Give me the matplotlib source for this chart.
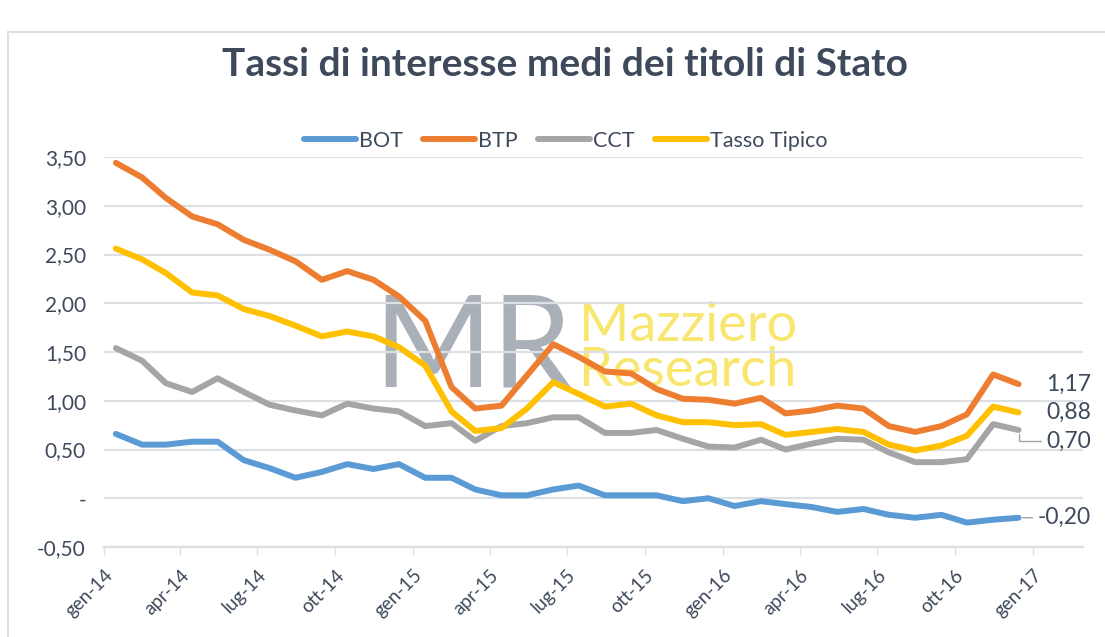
import pandas as pd
import matplotlib
matplotlib.use("Agg")
import matplotlib.pyplot as plt
from matplotlib.patches import Rectangle

# ========== DATA ==========
months = pd.date_range("2014-01-01", "2016-12-01", freq="MS") + pd.Timedelta(days=14)

bot = [0.66, 0.55, 0.55, 0.58, 0.58, 0.39, 0.31, 0.21, 0.27, 0.35, 0.30, 0.35,
       0.21, 0.21, 0.09, 0.03, 0.03, 0.09, 0.13, 0.03, 0.03, 0.03, -0.03, 0.00,
       -0.08, -0.03, -0.06, -0.09, -0.14, -0.11, -0.17, -0.20, -0.17, -0.25, -0.22, -0.20]
btp = [3.44, 3.29, 3.08, 2.89, 2.81, 2.65, 2.55, 2.43, 2.24, 2.33, 2.24, 2.07,
       1.82, 1.14, 0.92, 0.95, 1.26, 1.58, 1.45, 1.30, 1.28, 1.12, 1.02, 1.01,
       0.97, 1.03, 0.87, 0.90, 0.95, 0.92, 0.74, 0.68, 0.74, 0.86, 1.27, 1.17]
cct = [1.54, 1.41, 1.18, 1.09, 1.23, 1.09, 0.96, 0.90, 0.85, 0.97, 0.92, 0.89,
       0.74, 0.77, 0.59, 0.74, 0.77, 0.83, 0.83, 0.67, 0.67, 0.70, 0.61, 0.53,
       0.52, 0.60, 0.50, 0.56, 0.61, 0.60, 0.47, 0.37, 0.37, 0.40, 0.76, 0.70]
tipico = [2.56, 2.45, 2.31, 2.11, 2.08, 1.94, 1.87, 1.77, 1.66, 1.71, 1.66, 1.55,
          1.36, 0.89, 0.69, 0.72, 0.92, 1.19, 1.07, 0.94, 0.97, 0.85, 0.78, 0.78,
          0.75, 0.76, 0.65, 0.68, 0.71, 0.68, 0.55, 0.49, 0.54, 0.64, 0.94, 0.88]

series_names = ["BOT", "BTP", "CCT", "Tasso Tipico"]
series_colors = ["#5B9BD5", "#ED7D31", "#A5A5A5", "#FFC000"]

tick_dates = pd.date_range("2014-01-01", "2017-01-01", freq="3MS")
tick_labels = ["gen-14", "apr-14", "lug-14", "ott-14", "gen-15", "apr-15", "lug-15",
               "ott-15", "gen-16", "apr-16", "lug-16", "ott-16", "gen-17"]
y_ticks = [-0.5, 0, 0.5, 1.0, 1.5, 2.0, 2.5, 3.0, 3.5]
y_labels = ["-0,50", "-", "0,50", "1,00", "1,50", "2,00", "2,50", "3,00", "3,50"]
# ==========================

TEXT = "#3E4A5B"
GRID = "#DCDFE4"
plt.rcParams["font.family"] = ["Lato", "DejaVu Sans"]

fig = plt.figure(figsize=(11.05, 6.37), dpi=100)
fig.patches.append(Rectangle((8 / 1105, -0.1), 1.2, 1.1 - 32 / 637,
                             transform=fig.transFigure, fill=False,
                             edgecolor=GRID, lw=1.5))
ax = fig.add_axes([104 / 1105, 1 - 547 / 637, (1083 - 104) / 1105, 390 / 637])

# watermark under the lines
ax.text(0.377, 0.505, "MR", transform=ax.transAxes, fontsize=92, color="#A9B0B8",
        weight="normal", ha="center", va="center", zorder=0)
ax.text(0.485, 0.51, "Mazziero\nResearch", transform=ax.transAxes, fontsize=39,
        color="#F8E66F", ha="left", va="center", linespacing=0.88, zorder=0)

for vals, name, col in zip([bot, btp, cct, tipico], series_names, series_colors):
    ax.plot(months, vals, color=col, lw=4.3, label=name, solid_capstyle="round",
            solid_joinstyle="round", zorder=3)

ax.set_xlim(pd.Timestamp("2014-01-01"), pd.Timestamp("2017-03-01"))
ax.set_ylim(-0.5, 3.5)
ax.set_yticks(y_ticks)
ax.set_yticklabels(y_labels)
ax.set_xticks(tick_dates)
ax.set_xticklabels(tick_labels, rotation=45, ha="right", va="top", rotation_mode="anchor")
ax.tick_params(axis="y", length=0, pad=13, labelsize=15, labelcolor=TEXT)
ax.tick_params(axis="x", length=6, width=1, color=GRID, pad=8, labelsize=13.5, labelcolor=TEXT)
ax.grid(axis="y", color=GRID, lw=1.6)
for s in ["top", "right", "left"]:
    ax.spines[s].set_visible(False)
ax.spines["bottom"].set_color(GRID)
ax.spines["bottom"].set_linewidth(1.6)
ax.set_axisbelow(True)

# end-of-series labels
last = months[-1]
ax.annotate("1,17", (last, btp[-1]), xytext=(20, 0), textcoords="offset points",
            fontsize=16.5, color=TEXT, va="center")
ax.annotate("0,88", (last, tipico[-1]), xytext=(20, 0), textcoords="offset points",
            fontsize=16.5, color=TEXT, va="center")
ax.annotate("0,70", (last, cct[-1]), xytext=(20, -8), textcoords="offset points",
            fontsize=16.5, color=TEXT, va="center",
            arrowprops=dict(arrowstyle="-", color="#A5A5A5", lw=1, shrinkA=2, shrinkB=3,
                            connectionstyle="angle,angleA=0,angleB=90"))
ax.annotate("-0,20", (last, bot[-1]), xytext=(14, 0), textcoords="offset points",
            fontsize=16.5, color=TEXT, va="center",
            arrowprops=dict(arrowstyle="-", color="#A5A5A5", lw=1, shrinkA=2, shrinkB=3))

fig.text(0.511, 1 - 65 / 637, "Tassi di interesse medi dei titoli di Stato",
         ha="center", va="center", fontsize=28, weight="bold", color=TEXT)
fig.legend(loc="center", bbox_to_anchor=(0.512, 1 - 141 / 637), ncol=4, frameon=False,
           handlelength=2.4, handletextpad=0.15, columnspacing=0.95, fontsize=15.5,
           labelcolor=TEXT)

fig.savefig("out.png", dpi=100)
